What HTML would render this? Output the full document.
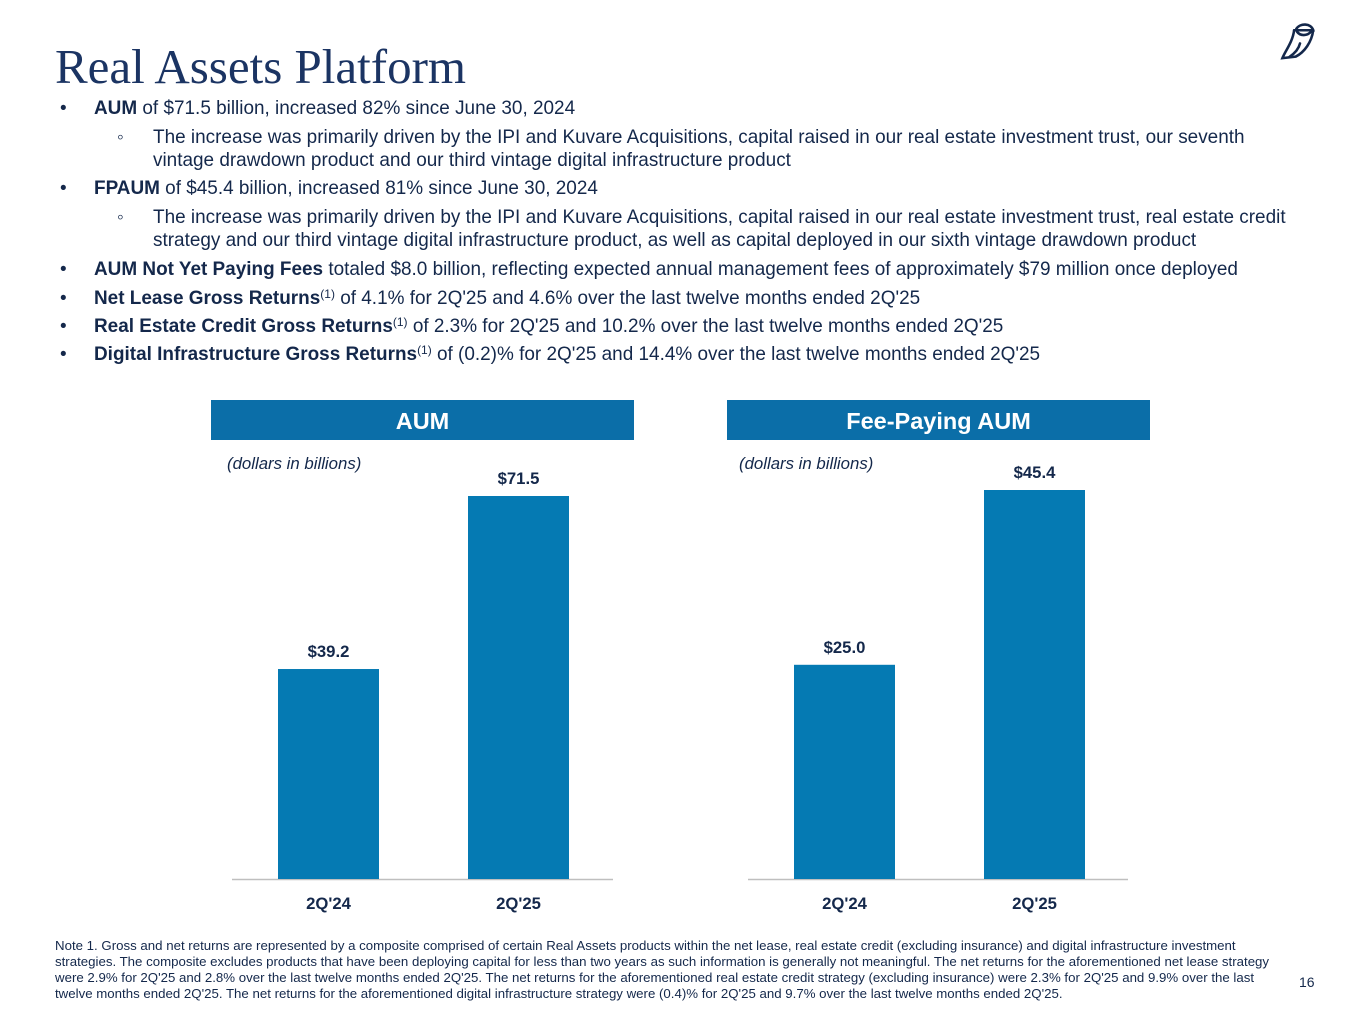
<!DOCTYPE html>
<html><head><meta charset="utf-8"><style>
body{margin:0;width:1365px;height:1024px;background:#fff;position:relative;overflow:hidden;font-family:"Liberation Sans",sans-serif;color:#14284b}
.t{position:absolute;white-space:nowrap}
.b{font-size:18.95px;line-height:23px}
.hdr{position:absolute;top:400px;height:40px;width:423px;background:#0b6ea8;color:#fff;font-weight:bold;font-size:23.5px;text-align:center;line-height:42px}
sup{font-size:12px;vertical-align:6px;line-height:0}
</style></head><body>
<div class="t" style="left:55px;top:38px;font-family:'Liberation Serif',serif;font-size:49px;color:#1b3463">Real Assets Platform</div>
<svg style="position:absolute;left:1278px;top:20px" width="44" height="44" viewBox="0 0 60 60"><g fill="none" stroke="#14284b" stroke-width="3.5" stroke-linecap="round"><path d="M25 12 C30 4 45 4 48 14 L22 14"/><path d="M26 16 C30 22 40 22 45 16"/><path d="M22 14 C20 30 10 42 6 52 L24 50 C36 44 46 30 48 14"/><path d="M30 32 C28 40 22 46 16 50"/></g></svg>

<div class="t b" style="left:60px;top:97px">•<span style="position:absolute;left:34px"><b>AUM</b> of $71.5 billion, increased 82% since June 30, 2024</span></div>
<div class="t b" style="left:117px;top:126px">◦<span style="position:absolute;left:36px">The increase was primarily driven by the IPI and Kuvare Acquisitions, capital raised in our real estate investment trust, our seventh<br>vintage drawdown product and our third vintage digital infrastructure product</span></div>
<div class="t b" style="left:60px;top:177px">•<span style="position:absolute;left:34px"><b>FPAUM</b> of $45.4 billion, increased 81% since June 30, 2024</span></div>
<div class="t b" style="left:117px;top:206px">◦<span style="position:absolute;left:36px">The increase was primarily driven by the IPI and Kuvare Acquisitions, capital raised in our real estate investment trust, real estate credit<br>strategy and our third vintage digital infrastructure product, as well as capital deployed in our sixth vintage drawdown product</span></div>
<div class="t b" style="left:60px;top:258px">•<span style="position:absolute;left:34px"><b>AUM Not Yet Paying Fees</b> totaled $8.0 billion, reflecting expected annual management fees of approximately $79 million once deployed</span></div>
<div class="t b" style="left:60px;top:287px">•<span style="position:absolute;left:34px"><b>Net Lease Gross Returns</b><sup>(1)</sup> of 4.1% for 2Q'25 and 4.6% over the last twelve months ended 2Q'25</span></div>
<div class="t b" style="left:60px;top:315px">•<span style="position:absolute;left:34px"><b>Real Estate Credit Gross Returns</b><sup>(1)</sup> of 2.3% for 2Q'25 and 10.2% over the last twelve months ended 2Q'25</span></div>
<div class="t b" style="left:60px;top:343px">•<span style="position:absolute;left:34px"><b>Digital Infrastructure Gross Returns</b><sup>(1)</sup> of (0.2)% for 2Q'25 and 14.4% over the last twelve months ended 2Q'25</span></div>

<div class="hdr" style="left:211px">AUM</div>
<div class="hdr" style="left:727px">Fee-Paying AUM</div>
<div class="t" style="left:227px;top:454px;font-size:16.8px;font-style:italic">(dollars in billions)</div>
<div class="t" style="left:739px;top:454px;font-size:16.8px;font-style:italic">(dollars in billions)</div>

<svg id="charts" style="position:absolute;left:0;top:0" width="1365" height="1024"></svg>

<div class="t" style="left:55px;top:938px;font-size:13.25px;line-height:16px;color:#14284b">Note 1. Gross and net returns are represented by a composite comprised of certain Real Assets products within the net lease, real estate credit (excluding insurance) and digital infrastructure investment<br>strategies. The composite excludes products that have been deploying capital for less than two years as such information is generally not meaningful. The net returns for the aforementioned net lease strategy<br>were 2.9% for 2Q'25 and 2.8% over the last twelve months ended 2Q'25. The net returns for the aforementioned real estate credit strategy (excluding insurance) were 2.3% for 2Q'25 and 9.9% over the last<br>twelve months ended 2Q'25. The net returns for the aforementioned digital infrastructure strategy were (0.4)% for 2Q'25 and 9.7% over the last twelve months ended 2Q'25.</div>
<div class="t" style="left:1299px;top:974px;font-size:14px">16</div>

<script>
const categories = ["2Q'24", "2Q'25"];
const aumValues = [39.2, 71.5];
const fpaumValues = [25.0, 45.4];
const aumLabels = ["$39.2", "$71.5"];
const fpaumLabels = ["$25.0", "$45.4"];

const svg = document.getElementById('charts');
const NS = 'http://www.w3.org/2000/svg';
function mk(tag, attrs){const e=document.createElementNS(NS,tag);for(const k in attrs)e.setAttribute(k,attrs[k]);svg.appendChild(e);return e;}
function drawChart(name, vals, labels, axisLeft, axisRight, firstBarX, pxPerUnit){
  const base = 879, step = 190, bw = 101;
  const y = v => base - v * pxPerUnit;
  const ax = mk('line',{x1:axisLeft,x2:axisRight,y1:base+0.5,y2:base+0.5,stroke:'#bfbfbf','stroke-width':1.5});
  
  
  vals.forEach((v,i)=>{
    const x = firstBarX + i*step;
    const r = mk('rect',{x:x,y:y(v),width:bw,height:base-y(v),fill:'#057ab3'});
    
    
    const t = mk('text',{x:x+bw/2,y:y(v)-12,'text-anchor':'middle','font-size':'16.7','font-weight':'bold',fill:'#14284b','font-family':'Liberation Sans'});
    t.textContent = labels[i];
    
    
    const c = mk('text',{x:x+bw/2,y:base+30,'text-anchor':'middle','font-size':'16.7','font-weight':'bold',fill:'#14284b','font-family':'Liberation Sans'});
    c.textContent = categories[i];
    
    
  });
}
drawChart('aum', aumValues, aumLabels, 232, 613, 278, 383/71.5);
drawChart('fpaum', fpaumValues, fpaumLabels, 748, 1128, 794, 389/45.4);
</script>
</body></html>
